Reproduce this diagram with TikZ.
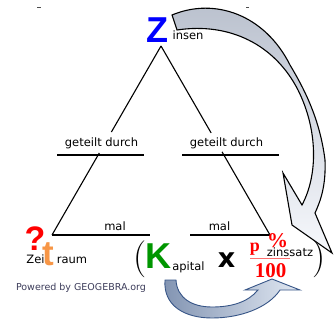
\documentclass[tikz,border=0pt]{standalone}
\usepackage{fontspec}
\newfontfamily\djv{DejaVu Sans}
\newfontfamily\lsans{Liberation Sans}
\newfontfamily\lserif{Liberation Serif}
\usetikzlibrary{calc}
\definecolor{zblue}{RGB}{0,0,255}
\definecolor{kgreen}{RGB}{0,150,0}
\definecolor{torange}{RGB}{247,150,70}
\definecolor{pred}{RGB}{255,0,0}
\definecolor{fracred}{RGB}{255,110,110}
\definecolor{ggtext}{RGB}{60,60,90}
\definecolor{arrtop}{RGB}{185,192,205}
\definecolor{arrbot}{RGB}{246,248,252}
\definecolor{barrline}{RGB}{55,85,135}
\definecolor{barrdark}{RGB}{130,148,178}
\definecolor{barrlight}{RGB}{225,232,242}
\begin{document}
\begin{tikzpicture}[x=1pt,y=-1pt,
  lbl/.style={inner sep=0pt, anchor=base, font=\djv\fontsize{11.5}{12}\selectfont},
  big/.style={inner sep=0pt, anchor=base, font=\lsans\bfseries\fontsize{36}{36}\selectfont},
  serifbig/.style={inner sep=0pt, anchor=base, text=pred, font=\lserif\bfseries\fontsize{21}{21}\selectfont},
  paren/.style={inner sep=0pt, anchor=base, font=\rmfamily\fontsize{37}{37}\selectfont},
  tri/.style={line width=1.1pt, black},
  topArrow/.style={line width=1.1pt, draw=black, top color=arrtop, bottom color=arrbot},
  botArrow/.style={line width=0.9pt, draw=barrline, left color=barrdark, right color=barrlight},
  tick/.style={line width=0.8pt, gray!60!black}]
\useasboundingbox (0,0) rectangle (334,320);

% tiny marks at the top
\coordinate (m1a) at (37,7); \coordinate (m1b) at (41,7);
\coordinate (m2a) at (246,7); \coordinate (m2b) at (249,7);
\draw[tick] (m1a) -- (m1b);
\draw[tick] (m2a) -- (m2b);

% curved arrows
\draw[topArrow] (172,15) .. controls (215,-3) and (265,15) .. (290,65)
  .. controls (305,90) and (320,120) .. (325,160)
  .. controls (326,185) and (321,200) .. (315,213)
  -- (332,253) -- (292,225) -- (283,173) -- (302,205)
  .. controls (318,175) and (318,130) .. (298,90)
  .. controls (275,45) and (230,22) .. (177,30) -- cycle;
\draw[botArrow] (165,280) .. controls (163,306) and (185,318) .. (212,318)
  .. controls (240,318) and (268,308) .. (280,290)
  -- (300,290) -- (272,279) -- (245,290) -- (258,290)
  .. controls (248,302) and (232,307) .. (212,307)
  .. controls (192,307) and (177,298) .. (176,280) -- cycle;

% triangle
\coordinate (A) at (161,46);
\coordinate (BL) at (52,235);
\coordinate (BR) at (270,235);
\draw[tri] (A) -- ($(A)!0.455!(BL)$);
\draw[tri] ($(A)!0.566!(BL)$) -- (BL);
\draw[tri] (A) -- ($(A)!0.46!(BR)$);
\draw[tri] ($(A)!0.56!(BR)$) -- (BR);
\coordinate (g1a) at (57,155); \coordinate (g1b) at (144,155);
\coordinate (g2a) at (182,155); \coordinate (g2b) at (279,155);
\draw[tri] (g1a) -- (g1b);
\draw[tri] (g2a) -- (g2b);
\coordinate (m1e) at (150,235); \coordinate (m2s) at (190,235);
\draw[tri] (BL) -- (m1e);
\draw[tri] (m2s) -- (BR);

% texts
\node[big, text=zblue] (Z) at (157,43) {Z};
\node[lbl] (insen) at (188,40) {insen};
\node[lbl] (gd1) at (101.5,147) {geteilt durch};
\node[lbl] (gd2) at (226.5,147) {geteilt durch};
\node[lbl] (mal1) at (115,230) {mal};
\node[lbl] (mal2) at (219.5,230) {mal};

\node[big, text=pred, font=\lsans\bfseries\fontsize{34}{34}\selectfont] (q) at (35,250) {?};
\node[big, text=torange, font=\lsans\bfseries\fontsize{35}{35}\selectfont] (t) at (48.5,265) {t};
\node[lbl] (zei) at (35.5,263) {Zei};
\node[lbl] (raum) at (72,263) {raum};

\node[paren] (lp) at (140,268) {(};
\node[big, text=kgreen] (K) at (158.5,268) {K};
\node[lbl] (apital) at (188.5,270) {apital};
\node[inner sep=0pt, anchor=base, font=\djv\bfseries\fontsize{27}{27}\selectfont] (x) at (226.5,267) {x};

\node[serifbig, font=\lserif\bfseries\fontsize{18}{18}\selectfont] (p) at (255,251) {p};
\node[serifbig] (pct) at (277.5,247) {\%};
\coordinate (fa) at (250,258); \coordinate (fb) at (290,258);
\draw[fracred, line width=0.9pt] (fa) -- (fb);
\node[lbl] (zins) at (290,256) {zinssatz};
\node[serifbig] (hundred) at (270.5,277) {100};
\node[paren] (rp) at (319,268) {)};

\node[inner sep=0pt, anchor=base, text=ggtext, font=\djv\fontsize{9.5}{10}\selectfont] (gg) at (81,290.5) {Powered by GEOGEBRA.org};
\end{tikzpicture}
\end{document}
